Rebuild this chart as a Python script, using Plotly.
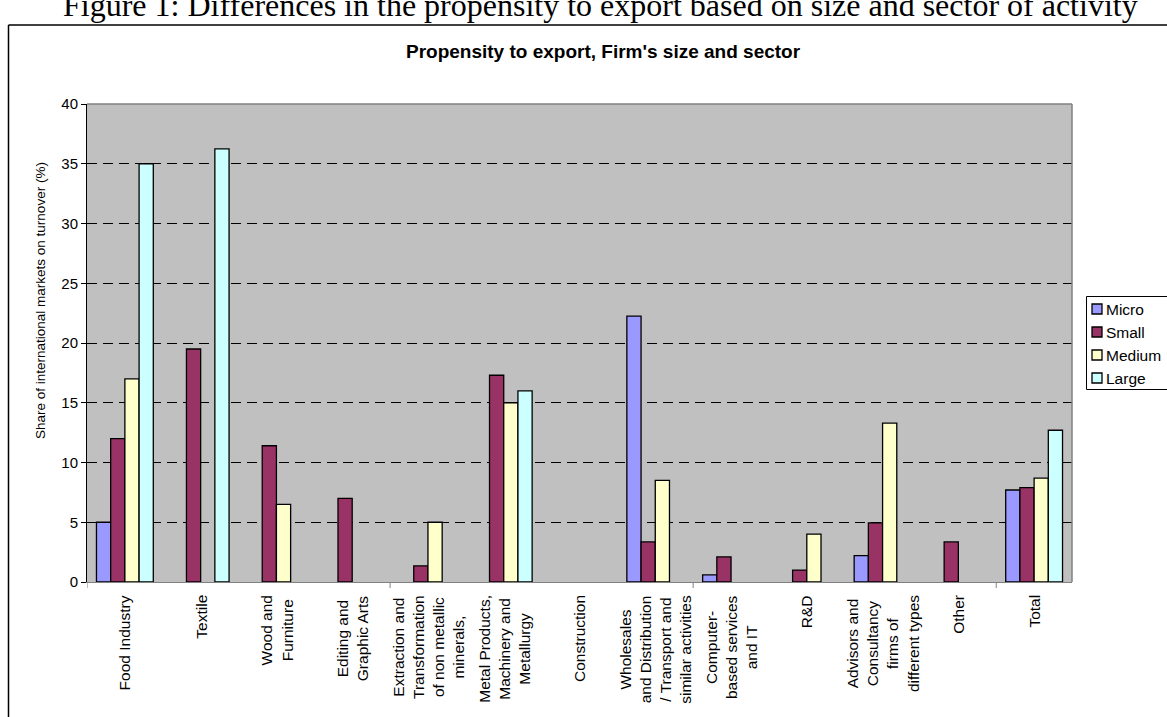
import plotly.graph_objects as go

categories = [
    "Food Industry", "Textile", "Wood and<br>Furniture", "Editing and<br>Graphic Arts",
    "Extraction and<br>Transformation<br>of non metallic<br>minerals,",
    "Metal Products,<br>Machinery and<br>Metallurgy", "Construction",
    "Wholesales<br>and Distribution<br>/ Transport and<br>similar activities",
    "Computer-<br>based services<br>and IT", "R&D",
    "Advisors and<br>Consultancy<br>firms of<br>different types", "Other", "Total",
]
micro = [5.0, None, None, None, None, None, None, 22.25, 0.6, None, 2.2, None, 7.7]
small = [12.0, 19.5, 11.4, 7.0, 1.35, 17.3, None, 3.35, 2.1, 1.0, 4.95, 3.35, 7.9]
medium = [17.0, None, 6.5, None, 5.0, 15.0, None, 8.5, None, 4.0, 13.3, None, 8.7]
large = [35.0, 36.25, None, None, None, 16.0, None, None, None, None, None, None, 12.7]
series_names = ["Micro", "Small", "Medium", "Large"]
series_colors = ["#9999FF", "#993366", "#FFFFCC", "#CCFFFF"]
y_ticks = [0, 5, 10, 15, 20, 25, 30, 35, 40]

W, H = 1167, 717
L, R, T, B = 87, 1072, 104, 582  # plot area pixels

def px_x(p):
    return (p - L) / (R - L)

def px_y(p):
    return (B - p) / (B - T)

idx = list(range(len(categories)))
fig = go.Figure()
for name, vals, col in zip(series_names, [micro, small, medium, large], series_colors):
    fig.add_trace(go.Bar(
        x=idx, y=vals, name=name, marker_color=col,
        marker_line=dict(color="black", width=1.3), showlegend=False,
    ))

FONT = "Liberation Sans, Arial, sans-serif"
fig.update_layout(
    width=W, height=H, autosize=False,
    margin=dict(l=L, r=W - R, t=T, b=H - B, autoexpand=False),
    paper_bgcolor="white", plot_bgcolor="#C0C0C0",
    barmode="group", bargap=0.25, bargroupgap=0,
    font=dict(family=FONT, size=15, color="black"),
    showlegend=False,
    xaxis=dict(
        range=[-0.5, len(categories) - 0.5], tickmode="array", tickvals=idx,
        ticktext=[""] * len(categories), showgrid=False, zeroline=False,
        showline=True, linecolor="#808080", linewidth=1, ticks="",
    ),
    yaxis=dict(
        range=[0, 40], tickmode="array", tickvals=y_ticks,
        ticktext=[str(v) for v in y_ticks], showgrid=True, gridcolor="black",
        griddash="10px,6px", gridwidth=1, zeroline=False,
        showline=True, linecolor="black", linewidth=1,
        ticks="outside", ticklen=5, tickcolor="black", tickfont=dict(size=15),
    ),
)

FRAME_Y = 25
shapes = [
    # plot area border (top/right gray)
    dict(type="line", xref="paper", yref="paper", x0=0, x1=1, y0=1, y1=1,
         line=dict(color="#808080", width=1.5)),
    dict(type="line", xref="paper", yref="paper", x0=1, x1=1, y0=0, y1=1,
         line=dict(color="#808080", width=1.5)),
    # outer frame
    dict(type="line", xref="paper", yref="paper", x0=px_x(8.5), x1=px_x(1180),
         y0=px_y(FRAME_Y), y1=px_y(FRAME_Y), line=dict(color="black", width=1.5)),
    dict(type="line", xref="paper", yref="paper", x0=px_x(8.5), x1=px_x(8.5),
         y0=px_y(FRAME_Y), y1=px_y(740), line=dict(color="black", width=1.5)),
    # legend box
    dict(type="rect", xref="paper", yref="paper", x0=px_x(1086.5), x1=px_x(1190),
         y0=px_y(296.5), y1=px_y(389.5), line=dict(color="black", width=1),
         fillcolor="white"),
]
# category tick marks (every 4 categories)
for b in [-0.5, 3.5, 7.5, 11.5]:
    shapes.append(dict(type="line", xref="x", yref="paper", x0=b, x1=b,
                       y0=0, y1=px_y(588), line=dict(color="#808080", width=1)))

ann = []
legend_y = [309, 332, 355, 378]
for name, col, ly in zip(series_names, series_colors, legend_y):
    shapes.append(dict(type="rect", xref="paper", yref="paper",
                       x0=px_x(1092), x1=px_x(1102), y0=px_y(ly - 5), y1=px_y(ly + 5),
                       fillcolor=col, line=dict(color="black", width=1.3)))
    ann.append(dict(x=px_x(1104), y=px_y(ly), xref="paper", yref="paper", text=name,
                    showarrow=False, xanchor="left", yanchor="middle",
                    font=dict(size=15.5, family=FONT)))
fig.update_layout(shapes=shapes)

for i, c in enumerate(categories):
    ann.append(dict(x=i, y=px_y(593), xref="x", yref="paper", text=c, textangle=-90,
                    showarrow=False, xanchor="center", yanchor="top", align="center",
                    font=dict(size=15.5, family=FONT)))
ann.append(dict(x=px_x(40), y=px_y(301), xref="paper", yref="paper",
                text="Share of international markets on turnover (%)", textangle=-90,
                showarrow=False, xanchor="center", yanchor="middle",
                font=dict(size=13.5, family=FONT)))
ann.append(dict(x=px_x(603), y=px_y(51), xref="paper", yref="paper",
                text="<b>Propensity to export, Firm's size and sector</b>",
                showarrow=False, xanchor="center", yanchor="middle",
                font=dict(size=19, family=FONT)))
ann.append(dict(x=px_x(600), y=px_y(25), xref="paper", yref="paper",
                text="Figure 1: Differences in the propensity to export based on size and sector of activity",
                showarrow=False, xanchor="center", yanchor="bottom",
                font=dict(size=32, family="Liberation Serif, Times New Roman, serif")))
fig.update_layout(annotations=ann)

fig.write_html("out.html")
